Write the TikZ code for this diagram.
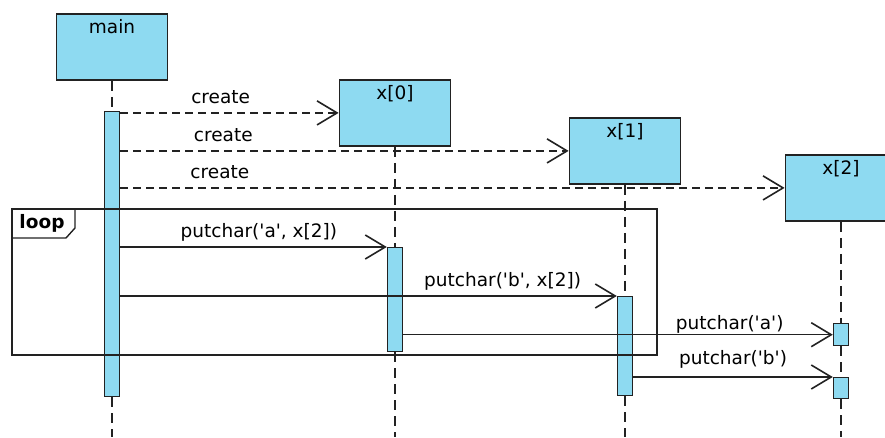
\documentclass[tikz,border=0pt]{standalone}
\usepackage{fontspec}
\setmainfont{DejaVu Sans}
\usetikzlibrary{arrows.meta}
\definecolor{objblue}{RGB}{142,218,241}
\definecolor{ink}{RGB}{34,34,34}
\newcommand{\q}{\textquotesingle}
\tikzset{
  obj/.style={draw=ink, line width=1.8pt, fill=objblue, minimum width=111pt,
    text height=13pt, text depth=39pt, inner ysep=7pt, anchor=north},
  act/.style={draw=ink, line width=1.4pt, fill=objblue, minimum width=15pt,
    minimum height=#1, inner sep=0pt, anchor=north},
  life/.style={ink, line width=1.4pt, dash pattern=on 10pt off 6pt},
  msg/.style={ink, line width=1.4pt, -{Straight Barb[length=20pt, width=24pt, line width=1.6pt]}},
  newmsg/.style={msg, dash pattern=on 8pt off 5pt},
  fragment/.style={ink, line width=1.4pt},
  lbl/.style={above, text=black, text depth=4pt, inner sep=5pt},
}
\begin{document}
\begin{tikzpicture}[x=1pt, y=-1pt, font=\fontsize{18.5}{22}\selectfont]
\useasboundingbox (0,0) rectangle (885,437);
\coordinate (bot) at (0,437);
% objects
\node[obj] (main) at (112,13) {main};
\node[obj] (x0) at (395,79) {x[0]};
\node[obj] (x1) at (625,117) {x[1]};
\node[obj] (x2) at (841,154) {x[2]};
% activations
\node[act=285pt] (amain) at (112,111) {};
\node[act=104pt] (a0) at (395,247) {};
\node[act=99pt] (a1) at (625,296) {};
\node[act=22pt] (a2a) at (841,323) {};
\node[act=21pt] (a2b) at (841,377) {};
% lifelines
\draw[life] (main.south) -- (amain.north) (amain.south) -- (amain.south |- bot);
\draw[life] (x0.south) -- (a0.north) (a0.south) -- (a0.south |- bot);
\draw[life] (x1.south) -- (a1.north) (a1.south) -- (a1.south |- bot);
\draw[life] (x2.south) -- (a2a.north) (a2a.south) -- (a2b.north) (a2b.south) -- (a2b.south |- bot);
% loop fragment
\draw[fragment] (12,209) rectangle (657,355);
\draw[fragment] (12,238) -- (66,238) -- (75,228) -- (75,209);
\node[font=\fontsize{18.5}{22}\selectfont\bfseries, inner sep=0pt] (looptag) at (42,223) {loop};
% messages
\draw[newmsg] (amain.east |- x0.west) -- (x0.west) node[lbl, pos=.46] {create};
\draw[newmsg] (amain.east |- x1.west) -- (x1.west) node[lbl, pos=.23] {create};
\draw[newmsg] (amain.east |- x2.west) -- (x2.west) node[lbl, pos=.15] {create};
\draw[msg] (amain.east |- a0.north) -- (a0.north west) node[lbl, pos=.52] {putchar(\q a\q, x[2])};
\draw[msg] (amain.east |- a1.north) -- (a1.north west) node[lbl, pos=.77] {putchar(\q b\q, x[2])};
\draw[msg] (a0.east |- a2a.west) -- (a2a.west) node[lbl, pos=.76, yshift=-4pt] {putchar(\q a\q)};
\draw[msg] (a1.east |- a2b.north west) -- (a2b.north west) node[lbl, midway, yshift=3pt] {putchar(\q b\q)};
\end{tikzpicture}
\end{document}
